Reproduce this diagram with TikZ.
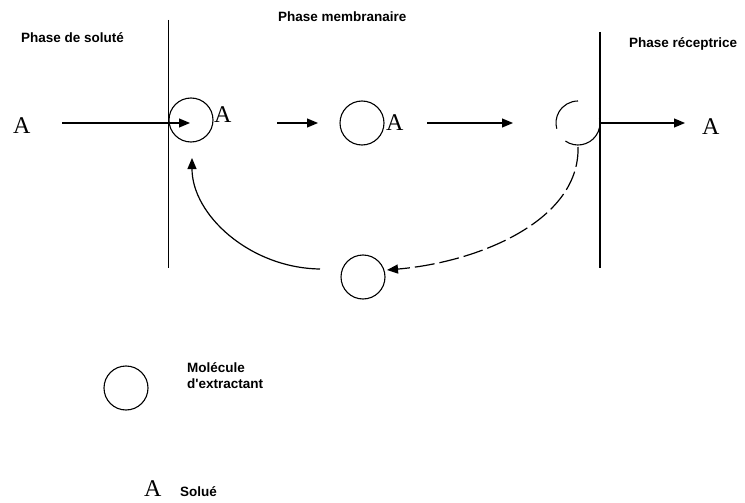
\documentclass[tikz,border=0pt]{standalone}
\usepackage{fontspec}
\setmainfont{Liberation Serif}
\newfontfamily\labelfont{Liberation Sans}
\usetikzlibrary{arrows.meta}
\tikzset{
  phase/.style={font=\labelfont\bfseries\fontsize{13.5}{16}\selectfont, anchor=base west, inner sep=0pt},
  solute/.style={font=\fontsize{24}{26}\selectfont, anchor=base west, inner sep=0pt},
  wall/.style={line width=1.4pt},
  mol/.style={circle, draw, line width=1.1pt, minimum size=44pt, inner sep=0pt},
  flow/.style={line width=1.2pt, -{Triangle[length=11pt,width=9pt]}},
  back/.style={line width=1.2pt, -{Triangle[length=11pt,width=9pt]}},
  backdash/.style={back, dash pattern=on 20pt off 5pt},
}
\begin{document}
\begin{tikzpicture}[x=1pt,y=1pt]
\useasboundingbox (0,0) rectangle (745,-503);

% phase labels
\node[phase] (ls) at (21,-42.5) {Phase de soluté};
\node[phase] (lm) at (278,-22) {Phase membranaire};
\node[phase] (lr) at (629,-48) {Phase réceptrice};

% membrane walls
\coordinate (wl1) at (168.5,-20);
\coordinate (wl2) at (168.5,-268);
\coordinate (wr1) at (600,-32);
\coordinate (wr2) at (600,-268);
\draw[wall] (wl1) -- (wl2);
\draw[wall] (wr1) -- (wr2);

% extractant molecules
\node[mol] (m1) at (191,-120) {};
\node[mol] (m2) at (362,-123) {};
\node[mol] (m4) at (363,-277) {};
\coordinate (m3) at (578,-123);
\draw[line width=1.1pt] (m3) ++(90:22) arc (90:195:22);
\draw[line width=1.1pt] (m3) ++(235:22) arc (235:372:22);

% solute labels
\node[solute] (a0) at (13,-133) {A};
\node[solute] (a1) at (214,-123) {A};
\node[solute] (a2) at (386,-130) {A};
\node[solute] (a3) at (702,-134) {A};

% transport arrows
\coordinate (f0) at (62,-123);  \coordinate (f1) at (190,-123);
\coordinate (g0) at (277,-123); \coordinate (g1) at (318,-123);
\coordinate (h0) at (427,-123); \coordinate (h1) at (513,-123);
\coordinate (k0) at (600,-123); \coordinate (k1) at (685,-123);
\draw[flow] (f0) -- (f1);
\draw[flow] (g0) -- (g1);
\draw[flow] (h0) -- (h1);
\draw[flow] (k0) -- (k1);

% return loop of the carrier
\coordinate (r0) at (320,-269);
\coordinate (r1) at (192,-158);
\draw[back] (r0) .. controls (250,-268) and (192,-215) .. (r1);
\coordinate (d0) at (578,-147);
\coordinate (d1) at (387,-270);
\draw[backdash] (d0) .. controls (580,-220) and (480,-262) .. (d1);

% legend
\node[mol] (lgm) at (126,-388) {};
\node[phase, align=left, anchor=north west] (lgmt) at (187,-362) {Molécule\\d'extractant};
\node[solute] (lga) at (144,-496) {A};
\node[phase] (lgat) at (180,-496) {Solué};
\end{tikzpicture}
\end{document}
